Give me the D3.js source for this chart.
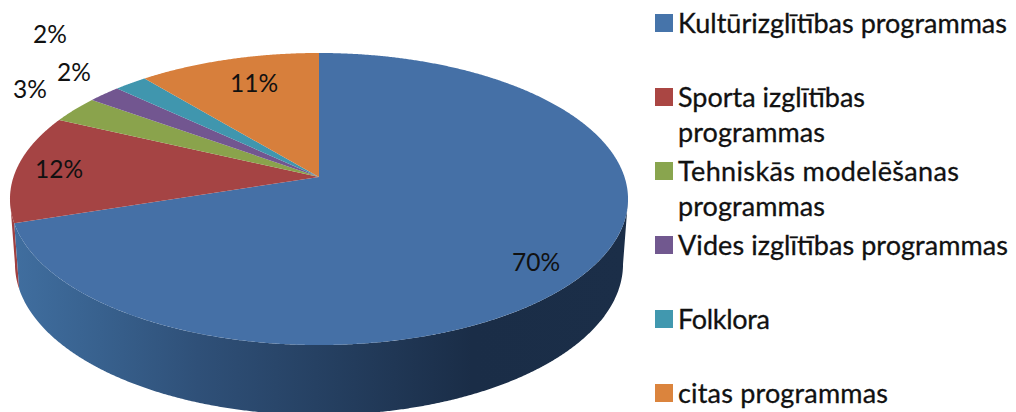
<!DOCTYPE html>
<html>
<head>
<meta charset="utf-8">
<script src="https://cdn.jsdelivr.net/npm/d3@7"></script>
<style>
  html, body { margin: 0; padding: 0; background: #fff; }
  svg { display: block; }
  text { font-family: Lato, "Open Sans", sans-serif; fill: #111; }
</style>
</head>
<body>
<svg width="1016" height="412"></svg>
<script>
var categories = [
  ["Kultūrizglītības programmas"],
  ["Sporta izglītības", "programmas"],
  ["Tehniskās modelēšanas", "programmas"],
  ["Vides izglītības programmas"],
  ["Folklora"],
  ["citas programmas"]
];
var values = [70, 12, 3, 2, 2, 11];
var colors = ["#4570a6", "#a54444", "#8aa34c", "#725690", "#4096ae", "#d77f3c"];
var swatchColors = ["#4674aa", "#aa4643", "#89a54e", "#71588f", "#4198af", "#db843d"];

// labels were moved by hand in the original, so they are placed by hand too
var labelX = [536, 59, 30, 74, 50, 254];
var labelY = [271, 178, 98, 81, 43, 92];

// widths of the legend lines as measured on the picture
var legendWidths = [[329], [187, 147], [281, 147], [330], [92], [210]];

var svg = d3.select("svg");

// top face is a tilted circle in perspective
var apexX = 319, apexY = 177,
  a = 142.7, b = 305.5, k = 0.1507;

// angles where the rim is widest, the wall outline runs between them
var rightEdge = Math.acos(-k),
  leftEdge = 2 * Math.PI - rightEdge;

function project(angle) {
  var u = Math.sin(angle),
    v = -Math.cos(angle),
    w = 1 - k * v;
  return [apexX + (b * u) / w, apexY + (a * v) / w];
}

// bottom rim: same ellipse, a bit narrower and further down
function projectBottom(angle) {
  var p = project(angle);
  return [319 + (p[0] - 319) * (304 / 309), 264 + (p[1] - 199) * (151 / 146)];
}

function arcPoints(start, end, fn) {
  var n = Math.ceil(Math.abs(end - start) / 0.005);
  return d3.range(n + 1).map(function (i) {
    return fn(start + ((end - start) * i) / n);
  });
}

var pie = d3.pie().sort(null)(values);
var line = d3.line();

var defs = svg.append("defs");
var wallGrad = defs
  .append("linearGradient")
  .attr("id", "wall")
  .attr("gradientUnits", "userSpaceOnUse")
  .attr("x1", 14)
  .attr("x2", 628)
  .attr("y1", 0)
  .attr("y2", 0);
wallGrad.append("stop").attr("offset", 0).attr("stop-color", "#406e9f");
wallGrad.append("stop").attr("offset", 0.14).attr("stop-color", "#38618e");
wallGrad.append("stop").attr("offset", 0.3).attr("stop-color", "#2f5078");
wallGrad.append("stop").attr("offset", 0.746).attr("stop-color", "#1a2d47");
wallGrad.append("stop").attr("offset", 1).attr("stop-color", "#1b2e48");

function wallPath(start, end) {
  var top = arcPoints(start, end, project);
  var bottom = arcPoints(end, start, projectBottom);
  return line(top.concat(bottom)) + "Z";
}

// red sliver at the left end of the blue wall
svg
  .append("path")
  .attr("d", wallPath(pie[1].startAngle, leftEdge))
  .attr("fill", "#a04040");

svg
  .append("path")
  .attr("d", wallPath(rightEdge, pie[0].endAngle))
  .attr("fill", "url(#wall)");

svg
  .selectAll(".slice")
  .data(pie)
  .enter()
  .append("path")
  .attr("class", "slice")
  .attr("d", function (d) {
    var pts = arcPoints(d.startAngle, d.endAngle, project);
    return line([[apexX, apexY]].concat(pts)) + "Z";
  })
  .attr("fill", function (d, i) {
    return colors[i];
  });

svg
  .selectAll(".label")
  .data(pie)
  .enter()
  .append("text")
  .attr("class", "label")
  .attr("x", function (d, i) {
    return labelX[i];
  })
  .attr("y", function (d, i) {
    return labelY[i];
  })
  .attr("text-anchor", "middle")
  .attr("font-size", "24.5px")
  .text(function (d) {
    return d.value + "%";
  });

// legend
var legendY = d3
  .scaleLinear()
  .domain([0, categories.length - 1])
  .range([23, 393]);

var legend = svg
  .selectAll(".legend")
  .data(categories)
  .enter()
  .append("g")
  .attr("class", "legend")
  .attr("transform", function (d, i) {
    return "translate(655," + legendY(i) + ")";
  });

legend
  .append("rect")
  .attr("x", 0)
  .attr("y", -9)
  .attr("width", 18)
  .attr("height", 18)
  .attr("fill", function (d, i) {
    return swatchColors[i];
  });

legend.each(function (lines, c) {
  d3.select(this)
    .selectAll("text")
    .data(lines)
    .enter()
    .append("text")
    .attr("x", 23)
    .attr("y", function (d, i) {
      return 10 + i * 35;
    })
    .attr("font-size", "27px")
    .attr("stroke", "#111")
    .attr("stroke-width", 0.3)
    .attr("textLength", function (d, i) {
      return legendWidths[c][i];
    })
    .attr("lengthAdjust", "spacing")
    .text(function (d) {
      return d;
    });
});
</script>
</body>
</html>
